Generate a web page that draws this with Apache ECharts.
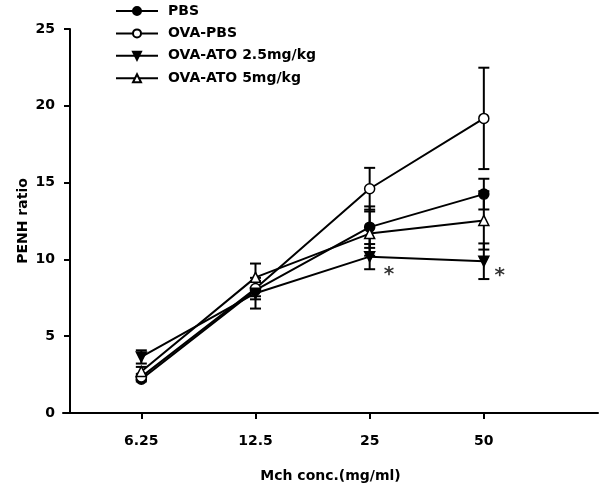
<!DOCTYPE html>
<html>
<head>
<meta charset="utf-8">
<script src="https://cdn.jsdelivr.net/npm/echarts@6/dist/echarts.min.js"></script>
<style>html,body{margin:0;padding:0;background:#fff;}#c{width:600px;height:488px;}</style>
</head>
<body>
<div id="c"></div>
<script>
const categories = ['6.25', '12.5', '25', '50'];
const seriesNames = ['PBS', 'OVA-PBS', 'OVA-ATO 2.5mg/kg', 'OVA-ATO 5mg/kg'];
const pbs = [2.2, 8.0, 12.1, 14.25];
const pbsErr = [0.15, 0.6, 1.35, 1.0];
const ovaPbs = [2.35, 8.1, 14.6, 19.18];
const ovaPbsErr = [0.2, 0.5, 1.36, 3.3];
const ato25 = [3.65, 7.8, 10.18, 9.88];
const ato25Err = [0.43, 1.0, 0.82, 1.16];
const ato5 = [2.7, 8.83, 11.68, 12.54];
const ato5Err = [0.3, 0.9, 1.44, 1.9];
const yTicks = [0, 5, 10, 15, 20, 25];
const asterisks = [[3.17, 9.0], [4.14, 8.95]];

const means = [pbs, ovaPbs, ato25, ato5];
const errs = [pbsErr, ovaPbsErr, ato25Err, ato5Err];
const symbols = ['circle', 'circle', 'triangle', 'triangle'];
const fills = ['#000', '#fff', '#000', '#fff'];
const rotates = [0, 0, 180, 0];
const font = '"DejaVu Sans", "Liberation Sans", Arial, sans-serif';

const series = [];
means.forEach((m, s) => {
  series.push({
    type: 'custom',
    name: seriesNames[s] + ' err',
    z: 1,
    silent: true,
    data: m.map((v, i) => [i + 1, v - errs[s][i], v + errs[s][i]]),
    encode: { x: 0, y: [1, 2] },
    renderItem: function (params, api) {
      const x = api.value(0);
      const top = api.coord([x, api.value(2)]);
      const bot = api.coord([x, api.value(1)]);
      const w = 5.5;
      const st = { stroke: '#000', lineWidth: 2, fill: 'none' };
      return {
        type: 'group',
        children: [
          { type: 'line', shape: { x1: top[0], y1: top[1], x2: bot[0], y2: bot[1] }, style: st },
          { type: 'line', shape: { x1: top[0] - w, y1: top[1], x2: top[0] + w, y2: top[1] }, style: st },
          { type: 'line', shape: { x1: bot[0] - w, y1: bot[1], x2: bot[0] + w, y2: bot[1] }, style: st }
        ]
      };
    }
  });
});
means.forEach((m, s) => {
  series.push({
    type: 'line',
    name: seriesNames[s],
    z: 3,
    data: m.map((v, i) => [i + 1, v]),
    symbol: symbols[s],
    symbolSize: 10,
    symbolRotate: rotates[s],
    showAllSymbol: true,
    lineStyle: { color: '#000', width: 2 },
    itemStyle: { color: fills[s], borderColor: '#000', borderWidth: 1.5 },
    emphasis: { disabled: true },
    animation: false
  });
});
series.push({
  type: 'scatter',
  name: 'sig',
  data: asterisks,
  symbolSize: 1,
  itemStyle: { color: 'rgba(0,0,0,0)' },
  label: { show: true, position: 'inside', formatter: '*', color: '#000', fontSize: 20, fontWeight: 'bold', fontFamily: font },
  silent: true
});

const chart = echarts.init(document.getElementById('c'), null, { renderer: 'canvas' });
chart.setOption({
  animation: false,
  backgroundColor: '#fff',
  grid: { left: 63, right: 2, top: 29, bottom: 71, containLabel: false },
  legend: {
    data: seriesNames,
    orient: 'vertical',
    left: 115,
    top: 4,
    padding: 0,
    itemWidth: 42,
    itemHeight: 10,
    itemGap: 8.4,
    lineStyle: { width: 2 },
    textStyle: { color: '#000', fontSize: 14, fontWeight: 'bold', fontFamily: font, padding: [0, 0, 0, 5] },
    selectedMode: false
  },
  xAxis: {
    type: 'value',
    min: 0.314,
    max: 5,
    name: 'Mch conc.(mg/ml)',
    nameLocation: 'middle',
    nameGap: 56,
    nameMoveOverlap: false,
    nameTextStyle: { color: '#000', fontSize: 14, fontWeight: 'bold', fontFamily: font },
    splitLine: { show: false },
    axisLine: { onZero: false, lineStyle: { color: '#000', width: 2 } },
    axisTick: { show: true, length: 6, lineStyle: { color: '#000', width: 2 }, customValues: [1, 2, 3, 4] },
    axisLabel: {
      customValues: [1, 2, 3, 4],
      formatter: v => categories[Math.round(v) - 1] || '',
      margin: 21, color: '#000', fontSize: 14, fontWeight: 'bold', fontFamily: font
    }
  },
  yAxis: {
    type: 'value',
    min: 0,
    max: 25,
    interval: 5,
    offset: -7,
    name: 'PENH ratio',
    nameLocation: 'middle',
    nameGap: 40,
    nameMoveOverlap: false,
    nameTextStyle: { color: '#000', fontSize: 14, fontWeight: 'bold', fontFamily: font },
    splitLine: { show: false },
    axisLine: { show: true, onZero: false, lineStyle: { color: '#000', width: 2 } },
    axisTick: { show: true, length: 6, lineStyle: { color: '#000', width: 2 } },
    axisLabel: {
      formatter: v => yTicks.indexOf(v) >= 0 ? String(v) : '',
      margin: 15, color: '#000', fontSize: 14, fontWeight: 'bold', fontFamily: font
    }
  },
  series: series
});
</script>
</body>
</html>
